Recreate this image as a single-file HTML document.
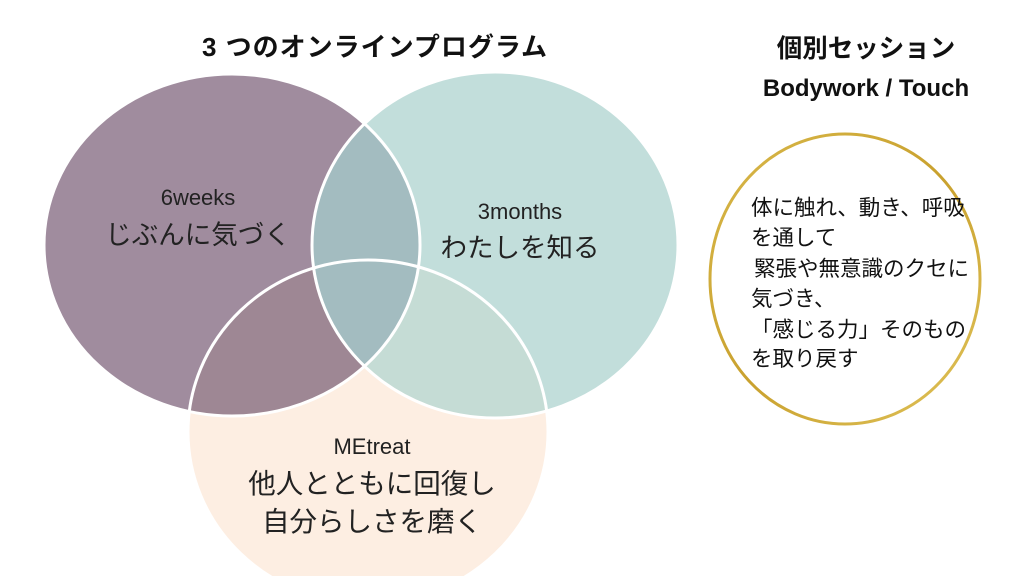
<!DOCTYPE html>
<html><head><meta charset="utf-8"><style>
body{margin:0;width:1024px;height:576px;overflow:hidden;background:#fff;font-family:"Liberation Sans","Noto Sans CJK JP",sans-serif;}
</style></head><body>
<svg width="1024" height="576" viewBox="0 0 1024 576" xmlns="http://www.w3.org/2000/svg">
<defs>
<clipPath id="cp"><ellipse cx="232" cy="245" rx="188" ry="171"/></clipPath>
<clipPath id="ct"><ellipse cx="495" cy="245" rx="183" ry="173"/></clipPath>
<linearGradient id="g" x1="0" y1="0" x2="1" y2="1">
<stop offset="0" stop-color="#d8b84a"/><stop offset="0.5" stop-color="#c9a12e"/><stop offset="1" stop-color="#e0c35a"/></linearGradient>
</defs>
<ellipse cx="368" cy="432" rx="180" ry="172" fill="#fdeee2"/>
<ellipse cx="232" cy="245" rx="188" ry="171" fill="#a08c9e"/>
<ellipse cx="495" cy="245" rx="183" ry="173" fill="#c2dedb"/>
<g clip-path="url(#cp)"><ellipse cx="495" cy="245" rx="183" ry="173" fill="#a3bcc0"/>
<ellipse cx="368" cy="432" rx="180" ry="172" fill="#9e8794"/></g>
<g clip-path="url(#ct)"><ellipse cx="368" cy="432" rx="180" ry="172" fill="#c5dcd5"/></g>
<g clip-path="url(#cp)"><g clip-path="url(#ct)"><ellipse cx="368" cy="432" rx="180" ry="172" fill="#a3bcc0"/></g></g>
<g fill="none" stroke="#fff" stroke-width="3">
<ellipse cx="232" cy="245" rx="188" ry="171"/>
<ellipse cx="495" cy="245" rx="183" ry="173"/>
<ellipse cx="368" cy="432" rx="180" ry="172"/>
</g>
<g font-size="22" fill="#222" text-anchor="middle">
<text x="198" y="205">6weeks</text>
<text x="198" y="244" font-size="26.5">じぶんに気づく</text>
<text x="520" y="219">3months</text>
<text x="520" y="257" font-size="26.5">わたしを知る</text>
<text x="372" y="454">MEtreat</text>
<text x="372" y="493" font-size="27.5">他人とともに回復し</text>
<text x="372" y="531" font-size="27.5">自分らしさを磨く</text>
</g>
<g font-weight="bold" fill="#111" text-anchor="middle">
<text x="375" y="56" font-size="26" letter-spacing="1">3 つのオンラインプログラム</text>
<text x="866" y="57" font-size="25.5">個別セッション</text>
<text x="866" y="96" font-size="24">Bodywork / Touch</text>
</g>
<ellipse cx="845" cy="279" rx="135" ry="145" fill="none" stroke="url(#g)" stroke-width="3"/>
<g font-size="21.5" fill="#111">
<text x="751" y="215">体に触れ、動き、呼吸</text>
<text x="751" y="245">を通して</text>
<text x="754" y="276">緊張や無意識のクセに</text>
<text x="751" y="306">気づき、</text>
<text x="751" y="337">「感じる力」そのもの</text>
<text x="751" y="366">を取り戻す</text>
</g>
</svg>
</body></html>
